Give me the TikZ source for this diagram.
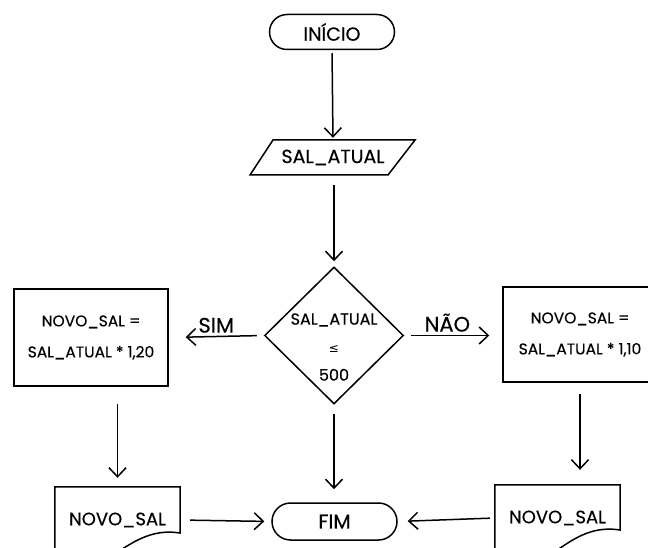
\documentclass[tikz,border=0pt]{standalone}
\usepackage{fontspec}
\setmainfont{Poppins}[UprightFeatures={FakeBold=0.35}]
\newfontfamily\symfont{DejaVu Sans}
\usetikzlibrary{arrows.meta,shapes.geometric,shapes.misc}
\tikzset{
  ln/.style={line width=1.5pt, draw=black},
  arr/.style={ln, -{Straight Barb[length=9pt,width=17pt,line width=1.5pt]}},
  term/.style={rounded rectangle, ln, minimum width=125pt, inner sep=0pt},
  proc/.style={rectangle, ln, minimum width=154pt, align=center, inner sep=0pt, font=\fontsize{15.5}{31}\selectfont},
  docnode/.style={rectangle, minimum width=125pt, minimum height=66pt, inner sep=0pt, font=\fontsize{18}{20}\selectfont},
  lbl/.style={font=\fontsize{21}{23}\selectfont, inner sep=3pt},
}
\begin{document}
\begin{tikzpicture}[x=1pt,y=-1pt]
\useasboundingbox (0,0) rectangle (648,548);
\clip (0,0) rectangle (648,548);
% start
\node[term, minimum height=35pt, font=\fontsize{19}{21}\selectfont] (inicio) at (332,32) {INÍCIO};
% input
\node[rectangle, minimum width=142pt, minimum height=35pt, inner sep=0pt, font=\fontsize{19}{21}\selectfont] (entrada) at (333,157.5) {SAL\_ATUAL};
\draw[ln] (250,175) -- (273,140) -- (415,140) -- (388,175) -- cycle;
% decision
\node[diamond, ln, minimum width=139pt, minimum height=137pt, inner sep=0pt] (dec) at (334,335.5) {};
\node[align=center, font=\fontsize{16}{28}\selectfont, inner sep=0pt] (dectext) at (334,347) {SAL\_ATUAL\\{\symfont\fontsize{12}{14}\selectfont ≤}\\500};
% process boxes
\node[proc, minimum height=97pt] (lbox) at (91,337.5) {NOVO\_SAL =\\SAL\_ATUAL * 1,20};
\node[proc, minimum height=95pt] (rbox) at (580,334.5) {NOVO\_SAL =\\SAL\_ATUAL * 1,10};
% documents
\node[docnode] (ldoc) at (117.5,520) {NOVO\_SAL};
\draw[ln] (ldoc.north east) -- (180,533) .. controls (150,528) and (130,545) .. (117,552) .. controls (100,562) and (75,565) .. (55,555) -- (ldoc.north west) -- cycle;
\node[docnode] (rdoc) at (557.5,518) {NOVO\_SAL};
\draw[ln] (rdoc.north east) -- (620,530) .. controls (590,525) and (570,542) .. (557,550) .. controls (540,560) and (515,563) .. (495,553) -- (rdoc.north west) -- cycle;
% end
\node[term, minimum height=37pt, font=\fontsize{20}{22}\selectfont] (fim) at (334.5,521.5) {FIM};
% connectors
\draw[arr, shorten <=3pt, shorten >=2pt] (inicio.south) -- (entrada.north);
\draw[arr, shorten <=10pt, shorten >=5pt] (entrada.south -| dec.north) -- (dec.north);
\draw[arr, shorten <=7pt, shorten >=17pt] (dec.west) -- node[lbl, above, pos=0.5] (sim) {SIM} (lbox.east);
\draw[arr, shorten <=7pt, shorten >=13pt] (dec.east) -- node[lbl, above, pos=0.44] (nao) {NÃO} (rbox.west |- dec.east);
\draw[arr, shorten <=17pt, shorten >=9pt] (lbox.south -| ldoc.north) -- (ldoc.north);
\draw[arr, shorten <=11pt, shorten >=15pt] (rbox.south) -- (rbox.south |- rdoc.north);
\draw[arr, shorten <=9pt, shorten >=13pt] (dec.south) -- (dec.south |- fim.north);
\draw[arr, shorten <=10pt, shorten >=7pt] (ldoc.east) -- (fim.west);
\draw[arr, shorten <=5pt, shorten >=10pt] (rdoc.west) -- (fim.east);
\end{tikzpicture}
\end{document}
